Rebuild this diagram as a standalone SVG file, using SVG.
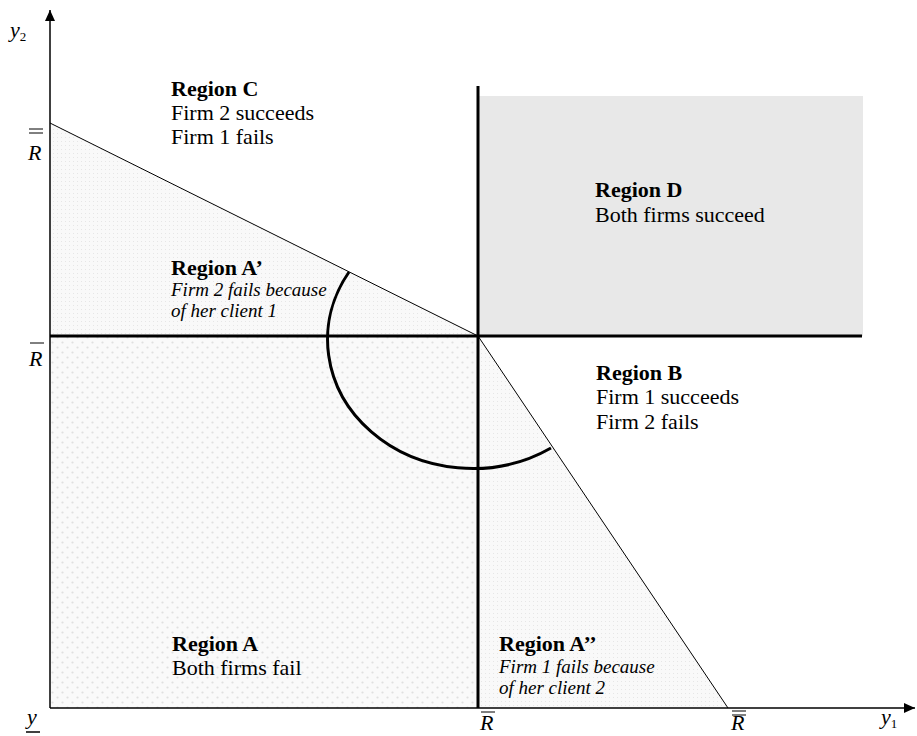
<svg xmlns="http://www.w3.org/2000/svg" width="917" height="736" viewBox="0 0 917 736">
<style>
  text { font-family: "Liberation Serif", "Times New Roman", serif; fill: #000; }
  .b { font-size: 22px; font-weight: bold; }
  .n { font-size: 22px; }
  .i { font-size: 19px; font-style: italic; }
  .m { font-size: 22px; font-style: italic; }
  .ax { stroke: #000; stroke-width: 1.5; fill: none; }
  .thick { stroke: #000; stroke-width: 3; fill: none; }
  .thin { stroke: #000; stroke-width: 1; fill: none; }
</style>
<defs>
  <pattern id="dotsA" width="10" height="10" patternUnits="userSpaceOnUse">
    <rect width="10" height="10" fill="#fafafa"/>
    <circle cx="2.5" cy="2.5" r="1.1" fill="#e0e0e0"/>
    <circle cx="7.5" cy="7.5" r="1.1" fill="#e0e0e0"/>
  </pattern>
  <pattern id="dotsB" width="4" height="4" patternUnits="userSpaceOnUse">
    <rect width="4" height="4" fill="#f9f9f9"/>
    <rect x="1" y="1" width="1" height="1" fill="#e6e6e6"/>
  </pattern>
  <marker id="arr" markerWidth="12" markerHeight="12" refX="11" refY="5" orient="auto" markerUnits="userSpaceOnUse">
    <path d="M0,0 L11,5 L0,10 z" fill="#000"/>
  </marker>
</defs>

<g id="regions">
  <rect id="regionA-fill" x="50" y="336" width="428" height="372" fill="url(#dotsA)"/>
  <polygon id="regionA1-fill" points="50,123 478,336 50,336" fill="url(#dotsB)"/>
  <polygon id="regionA2-fill" points="478,336 728,708 478,708" fill="url(#dotsB)"/>
  <rect id="regionD-fill" x="478" y="96" width="385" height="240" fill="#e8e8e8"/>
</g>

<g id="connectors">
  <line class="ax" x1="50" y1="708" x2="50" y2="10" marker-end="url(#arr)"/>
  <line class="ax" x1="50" y1="708" x2="915" y2="708" marker-end="url(#arr)"/>
  <line class="thick" x1="50" y1="336" x2="862" y2="336"/>
  <line class="thick" x1="478" y1="86" x2="478" y2="708"/>
  <line class="thin" x1="50" y1="123" x2="478" y2="336"/>
  <line class="thin" x1="478" y1="336" x2="728" y2="708"/>
  <path class="thick" d="M349,272 A145,129 0 0 0 551,448"/>
</g>

<g id="labels">
  <text class="m" x="10" y="37">y<tspan font-size="13" font-style="normal" dy="4">2</tspan></text>
  <text class="m" x="28" y="160">R</text>
  <line x1="29" y1="129" x2="43" y2="129" stroke="#000" stroke-width="1"/>
  <line x1="29" y1="133" x2="43" y2="133" stroke="#000" stroke-width="1"/>
  <text class="m" x="29" y="366">R</text>
  <line x1="30" y1="343" x2="44" y2="343" stroke="#000" stroke-width="1"/>
  <text class="m" x="27" y="724">y</text>
  <line x1="26" y1="732" x2="40" y2="732" stroke="#000" stroke-width="1.5"/>
  <text class="m" x="480" y="730">R</text>
  <line x1="481" y1="712" x2="495" y2="712" stroke="#000" stroke-width="1"/>
  <text class="m" x="731" y="730">R</text>
  <line x1="732" y1="711" x2="746" y2="711" stroke="#000" stroke-width="1"/>
  <line x1="732" y1="715" x2="746" y2="715" stroke="#000" stroke-width="1"/>
  <text class="m" x="881" y="724">y<tspan font-size="13" font-style="normal" dy="4">1</tspan></text>
</g>

<g id="regionC">
  <text class="b" x="171" y="96">Region C</text>
  <text class="n" x="171" y="120">Firm 2 succeeds</text>
  <text class="n" x="171" y="144">Firm 1 fails</text>
</g>
<g id="regionD">
  <text class="b" x="595" y="197">Region D</text>
  <text class="n" x="595" y="222">Both firms succeed</text>
</g>
<g id="regionA1">
  <text class="b" x="171" y="275">Region A’</text>
  <text class="i" x="171" y="296">Firm 2 fails because</text>
  <text class="i" x="171" y="317">of her client 1</text>
</g>
<g id="regionB">
  <text class="b" x="596" y="380">Region B</text>
  <text class="n" x="596" y="404">Firm 1 succeeds</text>
  <text class="n" x="596" y="429">Firm 2 fails</text>
</g>
<g id="regionA">
  <text class="b" x="172" y="651">Region A</text>
  <text class="n" x="172" y="675">Both firms fail</text>
</g>
<g id="regionA2">
  <text class="b" x="499" y="651">Region A’’</text>
  <text class="i" x="499" y="673">Firm 1 fails because</text>
  <text class="i" x="499" y="694">of her client 2</text>
</g>
</svg>
